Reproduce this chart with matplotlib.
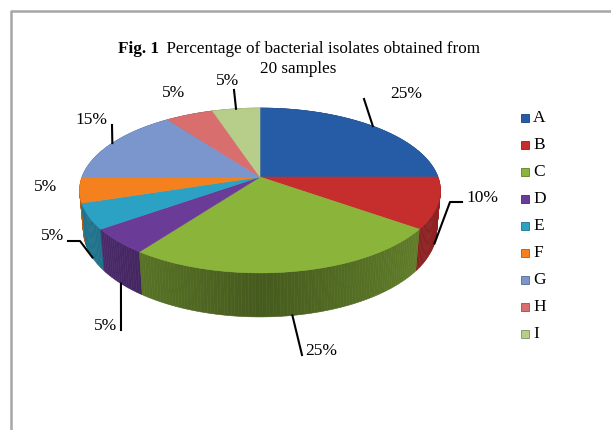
import numpy as np
import matplotlib.pyplot as plt
from matplotlib.patches import Polygon, Rectangle
from matplotlib.colors import to_rgb

categories = ["A", "B", "C", "D", "E", "F", "G", "H", "I"]
percent = [25, 10, 25, 5, 5, 5, 15, 5, 5]
colors = ["#265CA6", "#C62E2E", "#8AB43A", "#6A3B97", "#2BA1C4",
          "#F4801E", "#7A96CD", "#D86F6E", "#B6CE8A"]

# label text position (px), alignment and leader line bends
label_xy = [(390, 94, "left"), (466, 198, "left"), (305, 351, "left"),
            (117, 326, "right"), (64, 236, "right"), (57, 187, "right"),
            (107, 120, "right"), (185, 93, "right"), (239, 81, "right")]
leaders = [[(364, 99)], [(450, 202), (462, 202)], [(302, 355)],
           [(121, 330)], [(80, 241), (68, 241)], None,
           [(112, 125)], None, [(234, 90)]]

serif = "Liberation Serif"

# simple perspective view of a flat disc (pixel space)
CX, CY = 260, 177
ELEV = np.radians(26.8)
DIST = 5.47
FOC = 973.7
THICK = 0.25


def project(theta, z):
    x, y = np.cos(theta), np.sin(theta)
    s, c = np.sin(ELEV), np.cos(ELEV)
    v = y * s + z * c
    w = y * c - z * s
    return CX + FOC * x / (DIST + w), CY - FOC * v / (DIST + w)


def depth(theta):
    return np.sin(theta) * np.cos(ELEV)


def shade(col, k):
    return tuple(min(1, ch * k) for ch in to_rgb(col))


fig = plt.figure(figsize=(6.11, 4.30), dpi=100)
ax = fig.add_axes([0, 0, 1, 1])
ax.set_xlim(0, 611)
ax.set_ylim(430, 0)
ax.axis("off")

# outer frame
ax.plot([11, 11, 611], [430, 11, 11], color="#a6a6a6", lw=1.8,
        solid_capstyle="butt")

# slice angles, clockwise from 12 o'clock
frac = np.array(percent) / sum(percent)
ends = np.pi / 2 - 2 * np.pi * np.cumsum(frac)
starts = np.concatenate([[np.pi / 2], ends[:-1]])

# side wall, far pieces first
quads = []
for i, (a0, a1) in enumerate(zip(starts, ends)):
    th = np.linspace(a0, a1, max(4, int(abs(a1 - a0) * 60)))
    for t0, t1 in zip(th[:-1], th[1:]):
        tm = (t0 + t1) / 2
        p = [project(t0, 0), project(t1, 0), project(t1, -THICK), project(t0, -THICK)]
        k = 0.5 + 0.24 * abs(np.cos(tm))
        quads.append((depth(tm), p, shade(colors[i], k)))
quads.sort(key=lambda q: -q[0])
for _, p, c in quads:
    ax.add_patch(Polygon(p, closed=True, facecolor=c, edgecolor=c, lw=0.4))

# top face
for i, (a0, a1) in enumerate(zip(starts, ends)):
    th = np.linspace(a0, a1, max(4, int(abs(a1 - a0) * 60)))
    pts = [(CX, CY)] + [project(t, 0) for t in th]
    ax.add_patch(Polygon(pts, closed=True, facecolor=colors[i],
                         edgecolor=colors[i], lw=0.4))

# data labels with leader lines
for i, (a0, a1) in enumerate(zip(starts, ends)):
    mid = (a0 + a1) / 2
    x, y, ha = label_xy[i]
    ax.text(x, y, f"{percent[i]}%", ha=ha, va="center", fontsize=12.5,
            family=serif, color="black")
    if leaders[i]:
        z = 0 if np.sin(mid) > 0 else -THICK
        ax0 = project(mid, z)
        xs = [ax0[0]] + [p[0] for p in leaders[i]]
        ys = [ax0[1]] + [p[1] for p in leaders[i]]
        ax.plot(xs, ys, color="black", lw=1.5)

# legend
for i, cat in enumerate(categories):
    y = 118 + i * 27
    ax.add_patch(Rectangle((521, y - 4), 7.5, 7.5, facecolor=colors[i],
                           edgecolor=shade(colors[i], 0.7), lw=0.6))
    ax.text(533, y, cat, ha="left", va="center", fontsize=12.5,
            family=serif, color="black")

# title: bold figure number followed by regular text
t1 = ax.text(0, 53, "Fig. 1", fontsize=12.3, family=serif, weight="bold",
             va="baseline", ha="left")
t2 = ax.text(0, 53, "  Percentage of bacterial isolates obtained from",
             fontsize=12.3, family=serif, va="baseline", ha="left")
r = fig.canvas.get_renderer()
w1 = t1.get_window_extent(r).width
w2 = t2.get_window_extent(r).width
x0 = 299 - (w1 + w2) / 2
t1.set_x(x0)
t2.set_x(x0 + w1)
ax.text(298, 73, "20 samples", fontsize=12.3, family=serif, va="baseline",
        ha="center")

fig.savefig("out.png", dpi=100)
